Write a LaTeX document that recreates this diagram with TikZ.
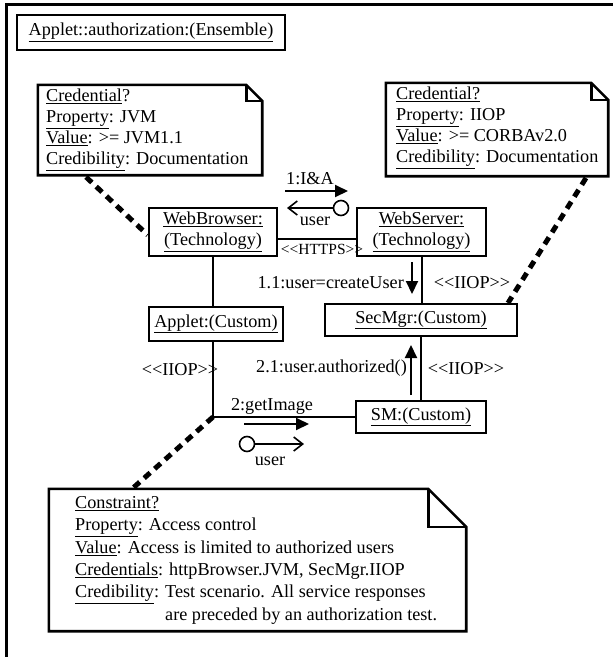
\documentclass[tikz,border=0pt]{standalone}
\usepackage{fontspec}
\setmainfont{Liberation Serif}
\usetikzlibrary{arrows.meta}
\newcommand\ul[1]{\underline{#1}}
\newcommand\stlt{<\kern0pt<}
\newcommand\stgt{>\kern0pt>}
\newcommand\dogear[2]{%
  \draw[boxline] (#1.north west) -- ([xshift=-#2]#1.north east) -- ([yshift=-#2]#1.north east) -- (#1.south east) -- (#1.south west) -- cycle;
  \draw[boxline] ([xshift=-#2]#1.north east) |- ([yshift=-#2]#1.north east);}
\begin{document}
\begin{tikzpicture}[x=1pt,y=-1pt,
  font=\fontsize{18.2}{21}\selectfont,
  boxline/.style={line width=2.6pt, line join=miter},
  objbox/.style={draw, line width=2.6pt, inner sep=0pt, align=center},
  notetxt/.style={inner sep=0pt, align=left, anchor=north west},
  conn/.style={line width=2pt},
  msg/.style={line width=2pt, -{Triangle[length=13pt,width=12pt]}},
  ret/.style={line width=1.6pt, -{Straight Barb[length=9pt,width=14pt]}},
  dotl/.style={line width=5pt, dash pattern=on 8pt off 6pt},
  lbl/.style={inner sep=0pt}]
\useasboundingbox (0,0) rectangle (613,657);
% frame
\draw[line width=3pt] (613,4) -- (6,4) -- (6,657);
% title
\node[objbox, minimum width=268pt, minimum height=35pt] (title) at (151,32.5) {\ul{Applet::authorization:(Ensemble)}};
% notes
\node[minimum width=224pt, minimum height=90pt, inner sep=0pt] (n1) at (150,130) {};
\dogear{n1}{16pt}
\node[notetxt] (n1t) at (46,89) {\ul{Credential}?\\ \ul{Property}: JVM\\ \ul{Value}: >= JVM1.1\\ \ul{Credibility}: Documentation};
\node[minimum width=222pt, minimum height=93pt, inner sep=0pt] (n2) at (497,129.5) {};
\dogear{n2}{17pt}
\node[notetxt] (n2t) at (396,87) {\ul{Credential?}\\ \ul{Property}: IIOP\\ \ul{Value}: >= CORBAv2.0\\ \ul{Credibility}: Documentation};
\node[minimum width=417pt, minimum height=142pt, inner sep=0pt] (n3) at (257.5,560) {};
\dogear{n3}{38pt}
\node[notetxt, font=\fontsize{18.2}{22.4}\selectfont] (n3t) at (75,496) {\ul{Constraint?}\\ \ul{Property}: Access control\\ \ul{Value}: Access is limited to authorized users\\ \ul{Credentials}: httpBrowser.JVM, SecMgr.IIOP\\ \ul{Credibility}: Test scenario. All service responses\\ \hphantom{Credibility: }are preceded by an authorization test.};
% objects
\node[objbox, minimum width=128pt, minimum height=48pt] (wb) at (213,232) {\ul{WebBrowser:}\\ \ul{(Technology)}};
\node[objbox, minimum width=129pt, minimum height=48pt] (ws) at (421.5,232) {\ul{WebServer:}\\ \ul{(Technology)}};
\node[objbox, minimum width=134pt, minimum height=34pt] (ap) at (216,324) {\ul{Applet:(Custom)}};
\node[objbox, minimum width=192pt, minimum height=32pt] (sec) at (421,320) {\ul{SecMgr:(Custom)}};
\node[objbox, minimum width=130pt, minimum height=32pt] (sm) at (421,417) {\ul{SM:(Custom)}};
% links
\draw[conn] ([yshift=-7pt]wb.east) -- ([yshift=-7pt]ws.west);
\node[lbl, font=\fontsize{15.5}{18}\selectfont] (https) at (322,249) {\stlt HTTPS\stgt};
\draw[conn] (wb.south) -- (wb.south |- ap.north);
\draw[conn] (ws.south) -- (ws.south |- sec.north);
\draw[conn] (sec.south) -- (sec.south |- sm.north);
\coordinate (cr) at (213,417);
\draw[conn] (ap.south -| cr) -- (cr) -- (cr -| sm.west);
\node[lbl] (iiop1) at (472,283) {\stlt IIOP\stgt};
\node[lbl] (iiop2) at (466,369) {\stlt IIOP\stgt};
\node[lbl] (iiop3) at (180,370) {\stlt IIOP\stgt};
% messages
\coordinate (m1a) at (285,191); \coordinate (m1b) at (348,191);
\draw[msg] (m1a) -- (m1b);
\node[lbl] (m1l) at (310,179) {1:I\&A};
\node[draw, circle, line width=1.6pt, minimum size=15pt, inner sep=0pt] (c1) at (341,208) {};
\coordinate (r1b) at (287,208);
\draw[ret] (c1.west) -- (r1b);
\node[lbl] (u1) at (315,221) {user};
\coordinate (m2a) at (412,262); \coordinate (m2b) at (412,294);
\draw[msg] (m2a) -- (m2b);
\node[lbl, anchor=east] (m2l) at (404,283) {1.1:user=createUser};
\coordinate (m3a) at (411,395); \coordinate (m3b) at (411,345);
\draw[msg] (m3a) -- (m3b);
\node[lbl, anchor=east] (m3l) at (407,368) {2.1:user.authorized()};
\coordinate (m4a) at (244,424); \coordinate (m4b) at (309,424);
\draw[msg] (m4a) -- (m4b);
\node[lbl] (m4l) at (272,406) {2:getImage};
\node[draw, circle, line width=1.6pt, minimum size=15pt, inner sep=0pt] (c2) at (247,444) {};
\coordinate (r2b) at (304,444);
\draw[ret] (c2.east) -- (r2b);
\node[lbl] (u2) at (270,461) {user};
% dotted attachments
\coordinate (d1a) at (86,177);
\draw[dotl] (d1a) -- ([yshift=-3pt]wb.west);
\coordinate (d2a) at (586,178); \coordinate (d2b) at (508,303);
\draw[dotl] (d2a) -- (d2b);
\coordinate (d3b) at (133,488);
\draw[dotl] (cr) -- (d3b);
\end{tikzpicture}
\end{document}
